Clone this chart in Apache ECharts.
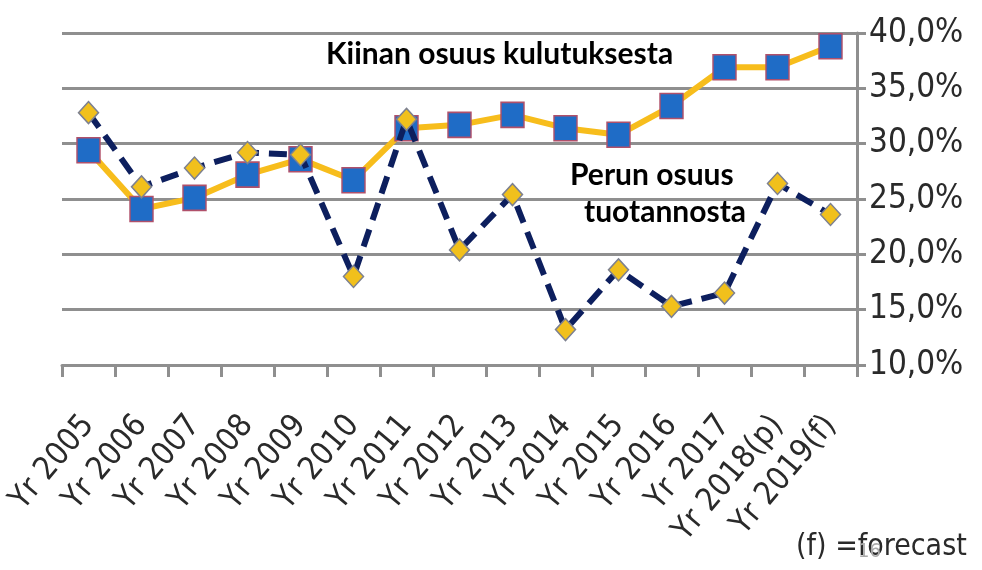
<!DOCTYPE html>
<html><head><meta charset="utf-8">
<script src="https://cdn.jsdelivr.net/npm/echarts@6/dist/echarts.min.js"></script>
<style>html,body{margin:0;padding:0;background:#fff}#c{width:982px;height:570px}</style>
</head><body><div id="c"></div>
<script>
const categories = ['Yr 2005','Yr 2006','Yr 2007','Yr 2008','Yr 2009','Yr 2010','Yr 2011','Yr 2012','Yr 2013','Yr 2014','Yr 2015','Yr 2016','Yr 2017','Yr 2018(p)','Yr 2019(f)'];
const chinaConsumption = [29.4, 24.1, 25.1, 27.2, 28.6, 26.7, 31.4, 31.7, 32.6, 31.4, 30.8, 33.4, 36.9, 36.9, 38.8];
const peruProduction = [32.8, 26.1, 27.8, 29.2, 29.0, 18.0, 32.2, 20.4, 25.4, 13.2, 18.6, 15.3, 16.5, 26.4, 23.6];
const yTicks = [10, 15, 20, 25, 30, 35, 40];

const narrow = '"Liberation Sans Narrow", "DejaVu Sans Condensed", Arial, sans-serif';
const boldFont = 'bold 30px Lato, "Open Sans", sans-serif';
const chart = echarts.init(document.getElementById('c'));
chart.setOption({
  animation: false,
  grid: {left: 62, right: 125, top: 33, bottom: 205},
  xAxis: {
    type: 'category', data: categories, boundaryGap: true,
    axisLine: {lineStyle: {color: '#8f8f8f', width: 3}},
    axisTick: {show: true, length: 12, lineStyle: {color: '#8f8f8f', width: 3}},
    axisLabel: {rotate: 50, interval: 0, fontFamily: narrow, fontSize: 32, color: '#2a2a2a', margin: 55}
  },
  yAxis: {
    type: 'value', position: 'right', min: yTicks[0], max: yTicks[yTicks.length-1], interval: 5,
    axisLine: {show: true, lineStyle: {color: '#8f8f8f', width: 3}},
    axisTick: {show: true, length: 9, lineStyle: {color: '#8f8f8f', width: 3}},
    splitLine: {show: true, lineStyle: {color: '#8f8f8f', width: 3}},
    axisLabel: {fontFamily: narrow, fontSize: 33, color: '#2a2a2a', margin: 12,
      formatter: v => v.toFixed(1).replace('.', ',') + '%'}
  },
  series: [
    {name: 'Kiinan osuus kulutuksesta', type: 'line', data: chinaConsumption, z: 2,
     lineStyle: {color: '#f7bd1c', width: 6}, symbol: 'rect', symbolSize: [23, 25],
     itemStyle: {color: '#1f6cc6', borderColor: '#b0506a', borderWidth: 1.5}},
    {name: 'Perun osuus tuotannosta', type: 'line', data: peruProduction, z: 3,
     lineStyle: {color: '#0d1f5e', width: 6, type: [18, 10]}, symbol: 'diamond', symbolSize: [20, 22],
     itemStyle: {color: '#f1c01c', borderColor: '#7d8190', borderWidth: 1.5}}
  ],
  graphic: [
    {type: 'text', left: 326, top: 39, style: {text: 'Kiinan osuus kulutuksesta', font: boldFont, fill: '#000'}},
    {type: 'text', left: 570, top: 160, style: {text: 'Perun osuus', font: boldFont, fill: '#000'}},
    {type: 'text', left: 584, top: 197, style: {text: 'tuotannosta', font: boldFont, fill: '#000'}},
    {type: 'text', left: 796, top: 532, style: {text: '(f) =forecast', font: '30px ' + narrow, fill: '#2a2a2a'}},
    {type: 'text', left: 858, top: 542, style: {text: '16', font: '20px ' + narrow, fill: '#aaaaaa'}}
  ]
});
</script></body></html>
